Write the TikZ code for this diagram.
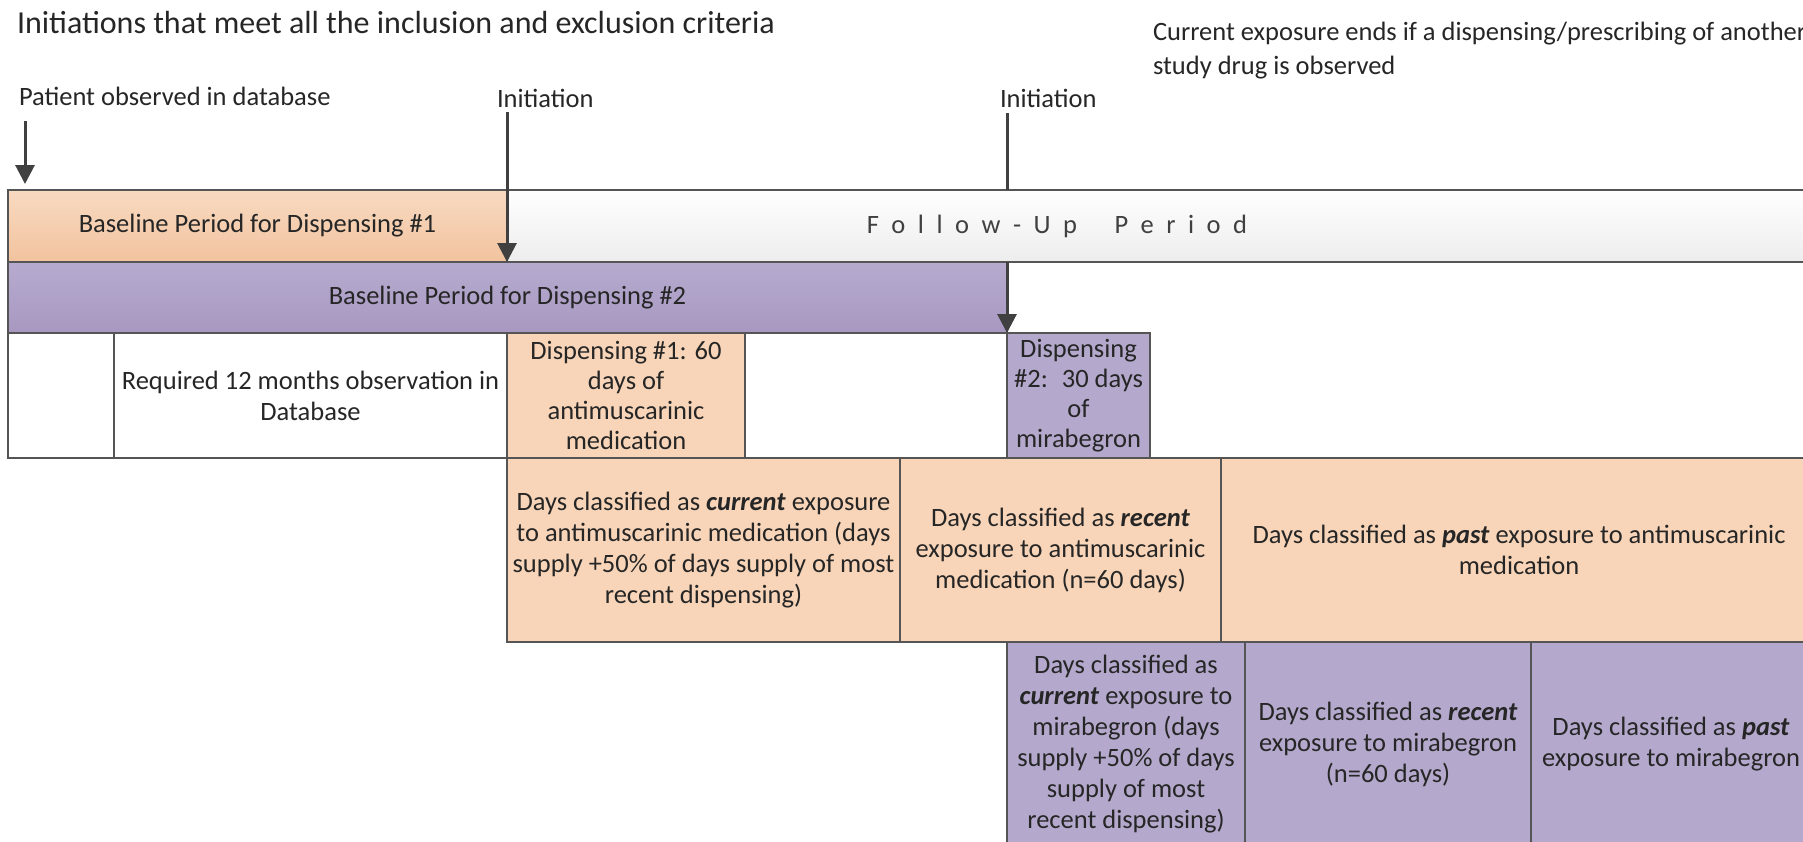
\documentclass[tikz,border=0pt]{standalone}
\usepackage{fontspec}
\setmainfont{Carlito}
\usetikzlibrary{arrows.meta,calc}
\definecolor{peach}{HTML}{F8D5B8}
\definecolor{peachtop}{HTML}{F8DAC1}
\definecolor{peachbot}{HTML}{F2C39F}
\definecolor{lav}{HTML}{B4A9CC}
\definecolor{lavtop}{HTML}{B6ABCF}
\definecolor{lavbot}{HTML}{A898C1}
\definecolor{edge}{HTML}{555555}
\definecolor{ink}{HTML}{262626}
\definecolor{arr}{HTML}{404040}
\definecolor{fugray}{HTML}{EDEDED}
\newcommand{\bi}[1]{\textbf{\textit{#1}}}
\newcommand{\ls}{\hspace{12.5pt}}
\begin{document}
\begin{tikzpicture}[x=1pt,y=-1pt,
  cell/.style={draw=edge, line width=1.5pt, inner sep=0pt, outer sep=0pt,
    anchor=north west, align=center, text=ink,
    font=\fontsize{26.5}{31}\selectfont},
  lbl/.style={inner sep=0pt, outer sep=0pt, anchor=west, text=ink,
    font=\fontsize{26.5}{34}\selectfont},
  arrowst/.style={draw=arr, line width=3pt,
    -{Triangle[width=19pt,length=19pt]}, shorten >=0pt},
  linest/.style={draw=arr, line width=3pt}]
\clip (0,0) rectangle (1803,841);
\fill[white] (0,0) rectangle (1803,841);

% header texts
\node[lbl, font=\fontsize{32}{36}\selectfont] (title) at (17,23)
  {Initiations that meet all the inclusion and exclusion criteria};
\node[lbl, align=left] (note) at (1153,51)
  {Current exposure ends if a dispensing/prescribing of another\\study drug is observed};
\node[lbl] (pat) at (19,96) {Patient observed in database};
\node[lbl] (ini1) at (497,98) {Initiation};
\node[lbl] (ini2) at (1000,98) {Initiation};

% row 1
\node[cell, top color=peachtop, bottom color=peachbot, minimum width=499pt, minimum height=72pt] (b1) at (8,190)
  {Baseline Period for Dispensing \#1};
\node[cell, top color=white, bottom color=fugray, minimum width=1320pt, minimum height=72pt] (fu) at (507,190) {};
\node[inner sep=0pt, text=arr, font=\fontsize{26.5}{31}\selectfont] (fut) at (1057,226)
  {F\ls o\ls l\ls l\ls o\ls w\ls -\ls U\ls p\ls\ls\ls P\ls e\ls r\ls i\ls o\ls d};

% row 2
\node[cell, top color=lavtop, bottom color=lavbot, minimum width=999pt, minimum height=71pt] (b2) at (8,262)
  {Baseline Period for Dispensing \#2};

% row 3
\node[cell, fill=white, minimum width=106pt, minimum height=125pt] (c0) at (8,333) {};
\node[cell, fill=white, minimum width=393pt, minimum height=125pt] (c1) at (114,333)
  {Required 12 months observation in\\Database};
\node[cell, fill=peach, minimum width=238pt, minimum height=125pt, font=\fontsize{26.5}{30}\selectfont] (d1) at (507,333)
  {Dispensing \#1: 60\\days of\\antimuscarinic\\medication};
\node[cell, fill=white, minimum width=262pt, minimum height=125pt] (c3) at (745,333) {};
\node[cell, fill=lav, minimum width=143pt, minimum height=125pt, font=\fontsize{26.5}{30}\selectfont] (d2) at (1007,333)
  {Dispensing\\\#2:~ 30 days\\of\\mirabegron};

% row 4
\node[cell, fill=peach, minimum width=393pt, minimum height=184pt] (r1) at (507,458)
  {Days classified as \bi{current} exposure\\to antimuscarinic medication (days\\supply +50\% of days supply of most\\recent dispensing)};
\node[cell, fill=peach, minimum width=321pt, minimum height=184pt] (r2) at (900,458)
  {Days classified as \bi{recent}\\exposure to antimuscarinic\\medication (n=60 days)};
\node[cell, fill=peach, minimum width=596pt, minimum height=184pt] (r3) at (1221,458)
  {Days classified as \bi{past} exposure to antimuscarinic\\medication};

% row 5
\node[cell, fill=lav, minimum width=238pt, minimum height=204pt] (m1) at (1007,642)
  {Days classified as\\\bi{current} exposure to\\mirabegron (days\\supply +50\% of days\\supply of most\\recent dispensing)};
\node[cell, fill=lav, minimum width=286pt, minimum height=204pt] (m2) at (1245,642)
  {Days classified as \bi{recent}\\exposure to mirabegron\\(n=60 days)};
\node[cell, fill=lav, minimum width=280pt, minimum height=204pt] (m3) at (1531,642)
  {Days classified as \bi{past}\\exposure to mirabegron};

% arrows
\coordinate (a1s) at (25,121);
\coordinate (a1e) at (25,184);
\coordinate (a2s) at (507,112);
\coordinate (a3s) at (1007,113);
\draw[arrowst] (a1s) -- (a1e);
\draw[arrowst] (a2s) -- (b1.south east);
\draw[linest] (a3s) -- (a3s |- fu.north);
\draw[arrowst] (a3s |- fu.south) -- (b2.south east);
\end{tikzpicture}
\end{document}
